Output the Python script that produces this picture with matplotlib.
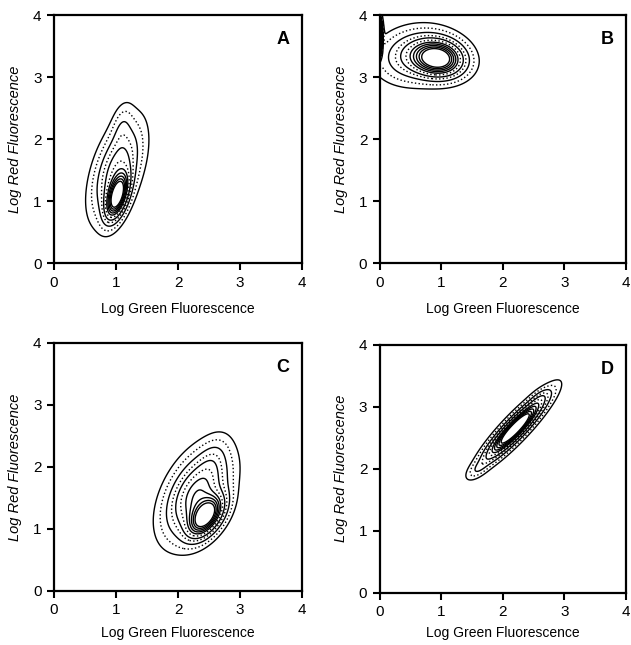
import numpy as np
import matplotlib.pyplot as plt

plt.rcParams['font.family'] = ['Liberation Sans', 'DejaVu Sans']

panel_names = ['A', 'B', 'C', 'D']
ticks = [0, 1, 2, 3, 4]

# each panel: gaussian populations
# (center x, center y, spread x, spread y, correlation, weight)
pop_cx = {'A': [1.02, 1.02, 1.1], 'B': [0.95, 0.6, -0.03], 'C': [2.45, 2.3, 2.55], 'D': [2.2, 1.6, 2.6]}
pop_cy = {'A': [1.08, 1.5, 2.2], 'B': [3.3, 3.35, 3.65], 'C': [1.2, 1.55, 2.1], 'D': [2.65, 2.0, 3.15]}
pop_sx = {'A': [0.11, 0.22, 0.1], 'B': [0.24, 0.33, 0.03], 'C': [0.17, 0.28, 0.15], 'D': [0.27, 0.1, 0.1]}
pop_sy = {'A': [0.22, 0.42, 0.22], 'B': [0.17, 0.23, 0.15], 'C': [0.2, 0.38, 0.22], 'D': [0.28, 0.09, 0.09]}
pop_rho = {'A': [0.5, 0.5, 0.3], 'B': [-0.1, 0.1, 0.0], 'C': [0.5, 0.45, 0.4], 'D': [0.91, 0.6, 0.6]}
pop_w = {'A': [1.0, 0.35, 0.07], 'B': [1.0, 0.3, 5.0], 'C': [1.0, 0.55, 0.08], 'D': [1.0, 0.06, 0.06]}

# contour levels as fraction of the peak
levels = [0.02, 0.05, 0.1, 0.16, 0.22, 0.3, 0.38, 0.46, 0.54, 0.62, 0.7]
styles = ['solid', 'dotted', 'solid', 'dotted', 'solid', 'dotted',
          'solid', 'solid', 'solid', 'solid', 'solid']

positions = {'A': [0.0856, 0.592, 0.393, 0.3845],
             'B': [0.602, 0.592, 0.39, 0.3845],
             'C': [0.0856, 0.084, 0.393, 0.3845],
             'D': [0.602, 0.081, 0.39, 0.3845]}
xlabel_pad = {'A': 9, 'B': 9, 'C': 6, 'D': 5}

fig = plt.figure(figsize=(6.31, 6.45), dpi=100)

gx = np.linspace(-0.3, 4, 430)
gy = np.linspace(-0.3, 4.3, 460)
X, Y = np.meshgrid(gx, gy)

for name in panel_names:
    ax = fig.add_axes(positions[name])
    Z = np.zeros_like(X)
    for cx, cy, sx, sy, r, w in zip(pop_cx[name], pop_cy[name], pop_sx[name],
                                    pop_sy[name], pop_rho[name], pop_w[name]):
        u = (X - cx) / sx
        v = (Y - cy) / sy
        Z += w * np.exp(-(u * u - 2 * r * u * v + v * v) / (2 * (1 - r * r)))
    Z = Z / Z[X > 0.15].max()
    ax.contour(X, Y, Z, levels=levels, colors='black', linewidths=1.0,
               linestyles=styles)
    ax.set_xlim(0, 4)
    ax.set_ylim(0, 4)
    ax.set_xticks(ticks)
    ax.set_yticks(ticks)
    ax.tick_params(direction='out', length=5, width=1.5, labelsize=11, pad=4)
    for s in ax.spines.values():
        s.set_linewidth(1.6)
    ax.set_xlabel('Log Green Fluorescence', fontsize=10, labelpad=xlabel_pad[name])
    ax.set_ylabel('Log Red Fluorescence', fontsize=10.5, style='italic', labelpad=8)
    ax.text(0.95, 0.9, name, transform=ax.transAxes, fontsize=13,
            fontweight='bold', ha='right', va='center')

fig.savefig('out.png', dpi=100)
